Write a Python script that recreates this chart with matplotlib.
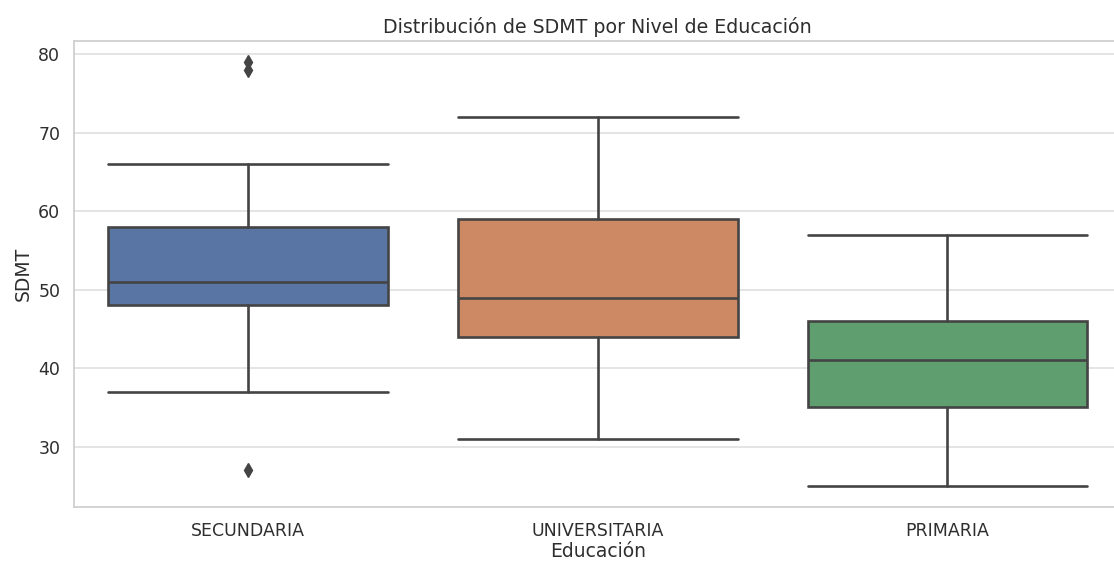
import numpy as np
import matplotlib.pyplot as plt
import seaborn as sns

categories = ['SECUNDARIA', 'UNIVERSITARIA', 'PRIMARIA']
whisker_low = [37, 31, 25]
q1 = [48, 44, 35]
medians = [51, 49, 41]
q3 = [58, 59, 46]
whisker_high = [66, 72, 57]
outliers = [[78, 79, 27], [], []]

sns.set_theme(style='whitegrid')
plt.rcParams['font.family'] = ['DejaVu Sans']
colors = sns.color_palette('deep', 3, desat=0.75)
edge = '#444444'

fig = plt.figure(figsize=(11.14, 5.61), dpi=100)
# the right edge of the axes runs slightly past the picture, as in the original crop
ax = fig.add_axes([0.066, 0.0963, 0.9413, 0.8307])

stats = []
for i, c in enumerate(categories):
    stats.append({'label': c, 'whislo': whisker_low[i], 'q1': q1[i], 'med': medians[i],
                  'q3': q3[i], 'whishi': whisker_high[i], 'fliers': outliers[i]})

bp = ax.bxp(stats, positions=range(len(categories)), widths=0.8, patch_artist=True,
            showfliers=True,
            boxprops=dict(edgecolor=edge, linewidth=1.9),
            whiskerprops=dict(color=edge, linewidth=1.9),
            capprops=dict(color=edge, linewidth=1.9),
            medianprops=dict(color=edge, linewidth=1.9),
            flierprops=dict(marker='d', markerfacecolor=edge, markeredgecolor=edge,
                            markersize=7, linestyle='none'))
for patch, col in zip(bp['boxes'], colors):
    patch.set_facecolor(col)
# caps as wide as the boxes
for cap in bp['caps']:
    x = cap.get_xdata()
    mid = (x[0] + x[1]) / 2
    cap.set_xdata([mid - 0.4, mid + 0.4])

ax.set_xlim(-0.5, 2.5)
ax.set_ylim(22.3, 81.7)
ax.set_yticks([30, 40, 50, 60, 70, 80])
ax.xaxis.grid(False)
ax.yaxis.grid(True, color='#dddddd', linewidth=1.1)
for sp in ax.spines.values():
    sp.set_color('#d0d0d0')
    sp.set_linewidth(1.3)
ax.tick_params(axis='both', labelsize=12.5, colors='#2e2e2e')
ax.tick_params(axis='x', pad=4.5)
ax.set_xlabel('Educación', fontsize=13.5, color='#2e2e2e', labelpad=2)
ax.set_ylabel('SDMT', fontsize=13.5, color='#2e2e2e')
ax.set_title('Distribución de SDMT por Nivel de Educación', fontsize=13.7, color='#2e2e2e', pad=6)

fig.savefig('out.png', dpi=100)
